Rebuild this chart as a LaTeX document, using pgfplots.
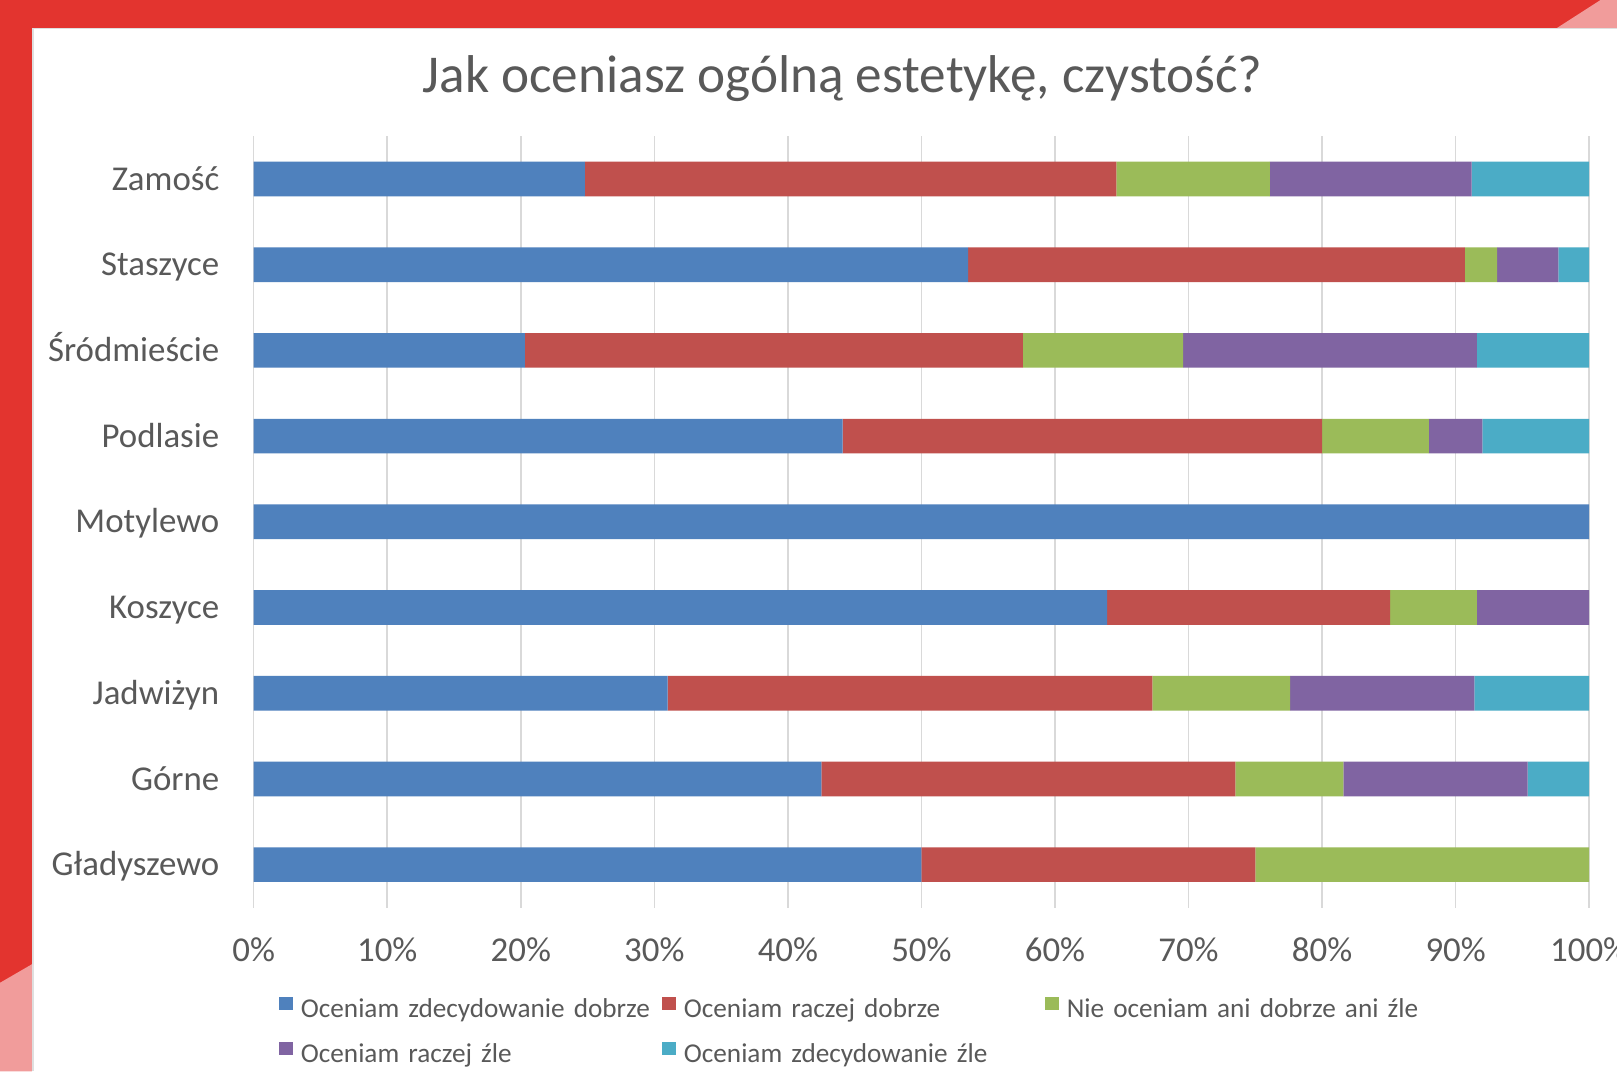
\documentclass[border=0pt]{standalone}
\usepackage{pgfplots}
\pgfplotsset{compat=1.18}
\usepackage{fontspec}
\setmainfont{Carlito}
\newfontfamily\legfont[WordSpace=1.5]{Carlito}
\definecolor{c1}{HTML}{4F81BD}
\definecolor{c2}{HTML}{C0504D}
\definecolor{c3}{HTML}{9BBB59}
\definecolor{c4}{HTML}{8064A2}
\definecolor{c5}{HTML}{4BACC6}
\definecolor{txt}{HTML}{595959}
\definecolor{gridc}{HTML}{D9D9D9}
\definecolor{framered}{HTML}{E3342F}
\definecolor{pinkc}{HTML}{F19C9B}
\begin{document}
\begin{tikzpicture}[x=1pt,y=1pt]
\fill[white] (0,0) rectangle (784,519.5);
\fill[framered] (0,506) rectangle (784,519.5);
\fill[pinkc] (755,506) -- (776,519.5) -- (784,519.5) -- (784,506) -- cycle;
\fill[framered] (0,0) rectangle (15.5,519.5);
\fill[pinkc] (0,43) -- (15.5,52) -- (15.5,0) -- (0,0) -- cycle;
\draw[gray!25, line width=0.8pt] (15.9,0) -- (15.9,505.6) -- (784,505.6);
\node[anchor=base, text=txt, font=\fontsize{25.8}{30}\selectfont, inner sep=0pt] at (408.5,474.5) {Jak oceniasz ogólną estetykę, czystość?};
\begin{axis}[
  at={(123pt,79.5pt)}, anchor=south west,
  scale only axis, width=647.5pt, height=374pt,
  xmin=0, xmax=100, ymin=-0.5, ymax=8.5,
  xbar stacked, bar width=16.8pt,
  xtick={0,10,...,100},
  xticklabels={0\%,10\%,20\%,30\%,40\%,50\%,60\%,70\%,80\%,90\%,100\%},
  ytick={0,...,8},
  yticklabels={Gładyszewo,Górne,Jadwiżyn,Koszyce,Motylewo,Podlasie,Śródmieście,Staszyce,Zamość},
  xmajorgrids, ymajorgrids=false,
  major grid style={draw=gridc, line width=0.75pt},
  axis line style={draw=none},
  major tick length=0pt,
  tick label style={text=txt, font=\fontsize{16.9}{20}\selectfont},
  xticklabel style={anchor=base, yshift=-26.25pt, inner sep=0pt},
  yticklabel style={anchor=base east, xshift=-16.5pt, yshift=-5.4pt, inner sep=0pt},
  legend columns=3,
  legend cell align=left,
  legend image code/.code={\fill[#1,draw=none] (0pt,0.3pt) rectangle (6.7pt,7pt);},
  legend style={draw=none, fill=none, inner sep=0pt,
    at={(0.0185,-0.1116)}, anchor=north west,
    font=\legfont\fontsize{13.2}{15}\selectfont, text=txt,
    column sep=2pt, row sep=5.3pt,
    nodes={inner sep=2pt, text height=9.5pt, text depth=3pt},
    /tikz/every even column/.append style={text width=171pt}},
]
\addplot[fill=c1, draw=none] coordinates {(50,0) (42.5,1) (31.0,2) (63.9,3) (100,4) (44.1,5) (20.3,6) (53.5,7) (24.8,8)};
\addplot[fill=c2, draw=none] coordinates {(25,0) (31.0,1) (36.3,2) (21.2,3) (0,4) (35.9,5) (37.3,6) (37.2,7) (39.8,8)};
\addplot[fill=c3, draw=none] coordinates {(25,0) (8.1,1) (10.3,2) (6.5,3) (0,4) (8.0,5) (12.0,6) (2.4,7) (11.5,8)};
\addplot[fill=c4, draw=none] coordinates {(0,0) (13.8,1) (13.8,2) (8.4,3) (0,4) (4.0,5) (22.0,6) (4.6,7) (15.1,8)};
\addplot[fill=c5, draw=none] coordinates {(0,0) (4.6,1) (8.6,2) (0,3) (0,4) (8.0,5) (8.4,6) (2.3,7) (8.8,8)};
\legend{Oceniam zdecydowanie dobrze, Oceniam raczej dobrze, Nie oceniam ani dobrze ani źle, Oceniam raczej źle, Oceniam zdecydowanie źle}
\end{axis}
\pgfresetboundingbox
\path[use as bounding box] (0,0) rectangle (784,519.5);
\end{tikzpicture}
\end{document}
